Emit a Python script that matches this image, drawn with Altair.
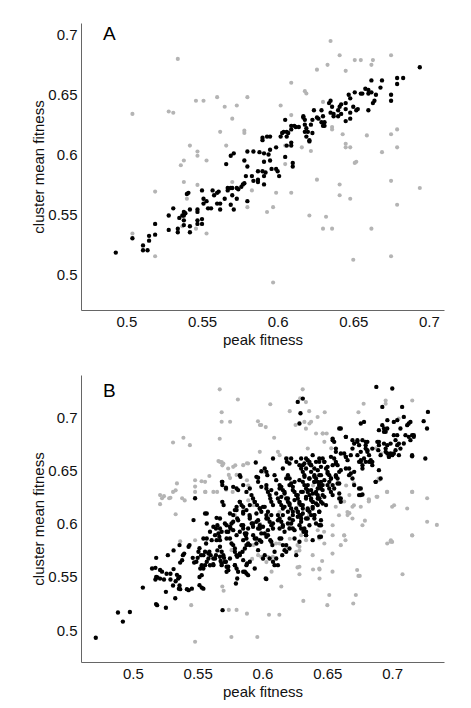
import altair as alt
import pandas as pd

tick_vals = [0.5, 0.55, 0.6, 0.65, 0.7]
x_title = "peak fitness"
y_title = "cluster mean fitness"

# ---------------- panel A ----------------
a_grey = [(0.504,0.634),(0.504,0.534),(0.519,0.569),(0.519,0.515),(0.528,0.636),(0.531,0.635),(0.534,0.680),(0.542,0.6075),(0.538,0.595),(0.536,0.591),(0.538,0.577),(0.540,0.563),(0.537,0.540),(0.546,0.645),(0.551,0.645),(0.547,0.6025),(0.547,0.599),(0.553,0.595),(0.547,0.5746),(0.546,0.538),(0.553,0.534),(0.560,0.648),(0.565,0.640),(0.573,0.641),(0.562,0.619),(0.566,0.6075),(0.570,0.630),(0.578,0.620),(0.578,0.618),(0.580,0.648),(0.570,0.577),(0.583,0.570),(0.580,0.556),(0.593,0.552),(0.597,0.556),(0.597,0.493),(0.599,0.568),(0.602,0.641),(0.603,0.618),(0.605,0.6075),(0.605,0.592),(0.609,0.633),(0.609,0.660),(0.609,0.568),(0.616,0.606),(0.618,0.653),(0.619,0.651),(0.621,0.549),(0.622,0.603),(0.626,0.671),(0.626,0.579),(0.630,0.644),(0.630,0.538),(0.632,0.548),(0.633,0.675),(0.635,0.695),(0.636,0.623),(0.636,0.621),(0.636,0.538),(0.641,0.683),(0.645,0.670),(0.643,0.617),(0.645,0.609),(0.645,0.606),(0.641,0.575),(0.641,0.566),(0.648,0.606),(0.648,0.563),(0.651,0.679),(0.655,0.679),(0.651,0.593),(0.652,0.594),(0.650,0.512),(0.659,0.616),(0.662,0.675),(0.663,0.679),(0.662,0.538),(0.669,0.602),(0.675,0.683),(0.675,0.617),(0.675,0.578),(0.675,0.515),(0.679,0.621),(0.679,0.606),(0.679,0.558),(0.694,0.572)]

a_black = [(0.493,0.518),(0.504,0.530),(0.511,0.524),(0.511,0.520),(0.514,0.520),(0.515,0.532),(0.515,0.528),(0.519,0.542),(0.519,0.533),(0.528,0.549),(0.528,0.537),(0.531,0.555),(0.534,0.538),(0.534,0.535),(0.535,0.547),(0.537,0.549),(0.538,0.552),(0.538,0.545),(0.538,0.549),(0.539,0.551),(0.538,0.541),(0.540,0.567),(0.541,0.568),(0.542,0.554),(0.542,0.540),(0.542,0.535),(0.547,0.554),(0.547,0.552),(0.547,0.545),(0.547,0.542),(0.550,0.570),(0.551,0.563),(0.551,0.559),(0.550,0.546),(0.550,0.542),(0.553,0.561),(0.554,0.555),(0.556,0.555),(0.557,0.570),(0.558,0.566),(0.560,0.559),(0.560,0.568),(0.561,0.569),(0.562,0.554),(0.562,0.559),(0.565,0.563),(0.566,0.592),(0.567,0.572),(0.567,0.570),(0.569,0.572),(0.570,0.572),(0.570,0.566),(0.569,0.599),(0.571,0.601),(0.569,0.558),(0.571,0.554),(0.573,0.563),(0.573,0.572),(0.574,0.571),(0.576,0.573),(0.577,0.575),(0.578,0.576),(0.578,0.595),(0.580,0.590),(0.580,0.6025),(0.579,0.582),(0.580,0.561),(0.583,0.582),(0.584,0.6025),(0.584,0.578),(0.587,0.577),(0.587,0.579),(0.587,0.586),(0.588,0.602),(0.590,0.612),(0.590,0.614),(0.591,0.594),(0.591,0.601),(0.590,0.586),(0.591,0.582),(0.592,0.585),(0.591,0.575),(0.593,0.615),(0.595,0.615),(0.594,0.600),(0.595,0.604),(0.595,0.595),(0.596,0.588),(0.599,0.588),(0.599,0.606),(0.600,0.586),(0.601,0.582),(0.602,0.615),(0.603,0.618),(0.604,0.619),(0.606,0.619),(0.605,0.629),(0.606,0.615),(0.606,0.6075),(0.605,0.598),(0.607,0.618),(0.609,0.624),(0.609,0.621),(0.609,0.610),(0.609,0.6075),(0.610,0.593),(0.610,0.590),(0.611,0.624),(0.612,0.623),(0.614,0.623),(0.617,0.631),(0.617,0.632),(0.618,0.629),(0.618,0.625),(0.619,0.622),(0.618,0.619),(0.619,0.615),(0.620,0.619),(0.621,0.612),(0.621,0.611),(0.622,0.625),(0.623,0.618),(0.623,0.629),(0.624,0.637),(0.626,0.631),(0.627,0.630),(0.629,0.627),(0.630,0.632),(0.630,0.624),(0.629,0.637),(0.631,0.627),(0.631,0.624),(0.634,0.643),(0.635,0.645),(0.636,0.640),(0.635,0.635),(0.637,0.634),(0.637,0.632),(0.640,0.632),(0.640,0.637),(0.641,0.640),(0.642,0.642),(0.642,0.634),(0.645,0.643),(0.645,0.638),(0.645,0.628),(0.647,0.650),(0.648,0.647),(0.648,0.635),(0.648,0.630),(0.650,0.640),(0.651,0.652),(0.652,0.637),(0.653,0.638),(0.655,0.651),(0.656,0.651),(0.658,0.655),(0.660,0.654),(0.660,0.651),(0.662,0.652),(0.660,0.637),(0.663,0.643),(0.664,0.645),(0.662,0.662),(0.665,0.650),(0.668,0.656),(0.669,0.662),(0.675,0.650),(0.675,0.645),(0.679,0.664),(0.679,0.659),(0.683,0.664),(0.694,0.673)]

# ---------------- panel B ----------------
b_grey = [(0.521,0.627),(0.5225,0.624),(0.521,0.6185),(0.524,0.626),(0.528,0.624),(0.529,0.6245),(0.531,0.6765),(0.531,0.630),(0.533,0.6315),(0.534,0.638),(0.533,0.609),(0.538,0.624),(0.540,0.622),(0.539,0.681),(0.544,0.674),(0.5365,0.5835),(0.545,0.5235),(0.548,0.641),(0.548,0.635),(0.548,0.630),(0.548,0.5845),(0.548,0.489),(0.553,0.640),(0.556,0.630),(0.559,0.645),(0.567,0.7265),(0.5685,0.705),(0.5685,0.696),(0.567,0.680),(0.566,0.659),(0.5685,0.658),(0.569,0.655),(0.565,0.630),(0.575,0.696),(0.5735,0.652),(0.574,0.646),(0.575,0.643),(0.572,0.632),(0.577,0.630),(0.569,0.541),(0.570,0.537),(0.574,0.519),(0.580,0.519),(0.576,0.4935),(0.581,0.717),(0.579,0.655),(0.580,0.646),(0.588,0.657),(0.588,0.641),(0.589,0.636),(0.588,0.5155),(0.592,0.567),(0.596,0.4935),(0.5965,0.6965),(0.598,0.693),(0.599,0.693),(0.6025,0.691),(0.606,0.7125),(0.609,0.681),(0.605,0.5145),(0.613,0.5145),(0.607,0.555),(0.6145,0.541),(0.6195,0.6615),(0.621,0.706),(0.6255,0.693),(0.631,0.7265),(0.629,0.718),(0.6335,0.7145),(0.636,0.706),(0.6375,0.696),(0.6335,0.6895),(0.6315,0.5275),(0.627,0.559),(0.6285,0.5525),(0.627,0.580),(0.6285,0.575),(0.639,0.557),(0.644,0.557),(0.644,0.5485),(0.6425,0.7005),(0.6465,0.685),(0.6495,0.685),(0.648,0.705),(0.646,0.565),(0.6515,0.533),(0.650,0.5235),(0.653,0.671),(0.654,0.555),(0.654,0.572),(0.663,0.589),(0.664,0.5845),(0.663,0.621),(0.6655,0.611),(0.667,0.610),(0.6705,0.638),(0.6705,0.6175),(0.672,0.533),(0.670,0.525),(0.673,0.5565),(0.674,0.551),(0.675,0.551),(0.674,0.705),(0.678,0.713),(0.679,0.603),(0.682,0.621),(0.682,0.623),(0.6895,0.6425),(0.688,0.6255),(0.695,0.716),(0.695,0.713),(0.696,0.630),(0.699,0.5845),(0.700,0.583),(0.7015,0.6175),(0.705,0.699),(0.708,0.5525),(0.7155,0.716),(0.7155,0.630),(0.7155,0.589),(0.727,0.624),(0.727,0.602),(0.7345,0.599),(0.589,0.622),(0.593,0.6175),(0.598,0.600),(0.608,0.5955),(0.6105,0.5815),(0.621,0.586),(0.6235,0.608),(0.6285,0.6175),(0.636,0.608),(0.644,0.599),(0.639,0.636),(0.6475,0.5925),(0.6565,0.616),(0.659,0.608),(0.667,0.627),(0.6645,0.636),(0.6005,0.649),(0.603,0.635),(0.613,0.611),(0.618,0.5785),(0.621,0.597),(0.593,0.580),(0.599,0.569),(0.603,0.564),(0.608,0.569),(0.613,0.5815),(0.6875,0.671),(0.6915,0.666),(0.5557,0.6395),(0.5672,0.6583),(0.5698,0.6567),(0.5774,0.6536),(0.5851,0.6552),(0.5889,0.6567),(0.5979,0.6677),(0.6119,0.6677),(0.6132,0.6646),(0.5787,0.6082),(0.5761,0.5752),(0.5966,0.5705),(0.6004,0.5674),(0.6042,0.569),(0.6285,0.5784),(0.626,0.5737),(0.6426,0.594),(0.6438,0.5862),(0.6387,0.5705),(0.6438,0.558),(0.6285,0.5596),(0.5557,0.630),(0.5621,0.630),(0.6413,0.685),(0.6464,0.685),(0.6477,0.6771),(0.6323,0.6959),(0.6362,0.6944),(0.6349,0.6708),(0.6898,0.6411),(0.6962,0.630),(0.7154,0.630),(0.7116,0.6144),(0.700,0.616),(0.6822,0.6223),(0.6886,0.6254),(0.6758,0.616),(0.6694,0.616),(0.6656,0.6082),(0.6694,0.605),(0.6771,0.5987),(0.6541,0.5987),(0.6541,0.5893),(0.663,0.5893),(0.6604,0.5799),(0.6477,0.5815),(0.6988,0.5831),(0.6962,0.5815),(0.7154,0.5893),(0.6336,0.5846),(0.6298,0.5893)]

b_black = [(0.4714,0.4928),(0.4885,0.5166),(0.4923,0.508),(0.4977,0.517),(0.5077,0.540),(0.518,0.568),(0.5148,0.558),(0.5174,0.5586),(0.5179,0.5245),(0.5187,0.5235),(0.518,0.550),(0.519,0.5495),(0.5174,0.5476),(0.521,0.5565),(0.5225,0.555),(0.521,0.5485),(0.524,0.5476),(0.526,0.553),(0.5255,0.536),(0.5255,0.521),(0.527,0.5705),(0.529,0.553),(0.529,0.5476),(0.5314,0.5574),(0.531,0.542),(0.533,0.546),(0.5314,0.575),(0.5327,0.530),(0.534,0.552),(0.535,0.5486),(0.536,0.550),(0.536,0.542),(0.5355,0.539),(0.5365,0.5385),(0.5365,0.5635),(0.538,0.5658),(0.536,0.580),(0.5386,0.5705),(0.5396,0.572),(0.5417,0.5385),(0.543,0.5376),(0.543,0.5784),(0.5437,0.580),(0.5462,0.568),(0.5473,0.5636),(0.5455,0.539),(0.5468,0.6035),(0.548,0.624),(0.549,0.5643),(0.550,0.568),(0.5506,0.5737),(0.5514,0.577),(0.5526,0.5705),(0.5531,0.561),(0.5544,0.558),(0.5514,0.550),(0.552,0.558),(0.5531,0.5517),(0.5514,0.5423),(0.5531,0.540),(0.5544,0.539),(0.5557,0.6097),(0.5557,0.5737),(0.5565,0.5815),(0.557,0.5862),(0.557,0.5643),(0.5583,0.5674),(0.559,0.5737),(0.560,0.5705),(0.5595,0.561),(0.562,0.562),(0.5608,0.5846),(0.5634,0.5674),(0.5641,0.5705),(0.5652,0.575),(0.5646,0.6056),(0.5652,0.5987),(0.5641,0.5956),(0.566,0.591),(0.5667,0.5878),(0.5672,0.5846),(0.5672,0.5784),(0.5685,0.5737),(0.5677,0.565),(0.5685,0.5627),(0.569,0.6395),(0.569,0.6364),(0.569,0.6207),(0.570,0.6176),(0.5698,0.5705),(0.5703,0.568),(0.5718,0.5643),(0.5723,0.5596),(0.5723,0.5549),(0.5736,0.5564),(0.5718,0.6339),(0.5692,0.5188),(0.5723,0.5987),(0.5736,0.5925),(0.5749,0.5862),(0.5754,0.5956),(0.5761,0.6003),(0.5774,0.6082),(0.5787,0.6129),(0.580,0.616),(0.5805,0.605),(0.5774,0.580),(0.5787,0.5768),(0.580,0.5705),(0.5805,0.569),(0.5787,0.561),(0.580,0.558),(0.5812,0.5549),(0.5795,0.5439),(0.5805,0.5486),(0.5812,0.6317),(0.5825,0.6458),(0.583,0.6442),(0.5825,0.6207),(0.5838,0.6176),(0.5851,0.6113),(0.5838,0.5987),(0.5851,0.5956),(0.5864,0.591),(0.5871,0.5893),(0.5876,0.5862),(0.5825,0.5705),(0.5846,0.5737),(0.5864,0.5768),(0.5876,0.580),(0.5889,0.5815),(0.5851,0.5658),(0.5876,0.5611),(0.5881,0.5627),(0.5864,0.5549),(0.5876,0.5533),(0.5889,0.5517),(0.590,0.6082),(0.5902,0.605),(0.5917,0.6003),(0.5927,0.5972),(0.5915,0.627),(0.5927,0.6238),(0.594,0.6207),(0.5953,0.6442),(0.5966,0.6433),(0.5958,0.6176),(0.5979,0.6144),(0.5991,0.6113),(0.6004,0.616),(0.5953,0.6019),(0.5966,0.5956),(0.5979,0.5987),(0.5991,0.591),(0.594,0.5862),(0.5953,0.5815),(0.5966,0.5752),(0.5979,0.5846),(0.6004,0.5674),(0.6017,0.5705),(0.6025,0.5486),(0.603,0.548),(0.6017,0.652),(0.603,0.6489),(0.603,0.6332),(0.6042,0.630),(0.6055,0.627),(0.606,0.6238),(0.6068,0.6207),(0.6081,0.6614),(0.6093,0.6458),(0.6106,0.6411),(0.603,0.6082),(0.6042,0.605),(0.6055,0.6019),(0.6068,0.5987),(0.6081,0.5956),(0.6042,0.5893),(0.606,0.5846),(0.6076,0.580),(0.6093,0.5737),(0.6081,0.5643),(0.6093,0.5611),(0.6106,0.5674),(0.6119,0.6238),(0.6132,0.6207),(0.6145,0.6176),(0.6157,0.6144),(0.6119,0.6082),(0.6132,0.605),(0.6145,0.6019),(0.6157,0.5987),(0.6132,0.6364),(0.6145,0.6348),(0.6157,0.6317),(0.617,0.630),(0.6145,0.5862),(0.6157,0.580),(0.617,0.5752),(0.6152,0.5705),(0.6183,0.6614),(0.6188,0.6583),(0.6183,0.6238),(0.6196,0.6207),(0.6209,0.6176),(0.6221,0.6144),(0.6234,0.6113),(0.6196,0.6458),(0.6209,0.6426),(0.6221,0.6379),(0.6234,0.6348),(0.6209,0.605),(0.6221,0.6003),(0.6234,0.5956),(0.6247,0.630),(0.626,0.627),(0.6272,0.6238),(0.6285,0.6207),(0.6298,0.6176),(0.626,0.6144),(0.6272,0.6113),(0.6285,0.6082),(0.6298,0.605),(0.6272,0.7147),(0.6285,0.6944),(0.6293,0.704),(0.6311,0.7178),(0.6298,0.652),(0.6311,0.6489),(0.6324,0.6442),(0.6298,0.5956),(0.6316,0.5925),(0.6336,0.5893),(0.6336,0.6332),(0.6349,0.630),(0.6362,0.627),(0.6375,0.6238),(0.6387,0.6207),(0.6349,0.6144),(0.6362,0.6113),(0.6375,0.6082),(0.640,0.605),(0.6362,0.6583),(0.6375,0.6552),(0.640,0.6458),(0.6413,0.6426),(0.6426,0.6395),(0.6438,0.6364),(0.6451,0.6332),(0.6413,0.630),(0.6426,0.627),(0.6438,0.6238),(0.6451,0.6207),(0.6438,0.5987),(0.6451,0.5878),(0.6464,0.6614),(0.6477,0.6583),(0.649,0.652),(0.6502,0.6489),(0.6515,0.6458),(0.6528,0.6426),(0.6502,0.6364),(0.6515,0.6332),(0.6528,0.630),(0.6541,0.627),(0.6541,0.6787),(0.6566,0.6708),(0.6553,0.6614),(0.6566,0.6583),(0.6579,0.6552),(0.6566,0.6458),(0.6579,0.6426),(0.6592,0.6379),(0.6592,0.6285),(0.6604,0.6238),(0.6592,0.6897),(0.663,0.6661),(0.6643,0.663),(0.6656,0.6599),(0.6643,0.6818),(0.6668,0.652),(0.6681,0.6473),(0.6694,0.6426),(0.6707,0.6364),(0.6694,0.6708),(0.6707,0.6756),(0.6732,0.6787),(0.6745,0.674),(0.6758,0.6677),(0.6758,0.6583),(0.6771,0.6552),(0.6783,0.6614),(0.6745,0.6332),(0.6758,0.627),(0.6771,0.6276),(0.6783,0.6959),(0.6796,0.6771),(0.6809,0.6693),(0.6822,0.6646),(0.6822,0.6583),(0.6835,0.6599),(0.6847,0.6583),(0.6873,0.6395),(0.6878,0.7288),(0.6886,0.6771),(0.6898,0.674),(0.6893,0.6693),(0.6924,0.6928),(0.6937,0.6897),(0.695,0.6865),(0.6924,0.71),(0.695,0.6708),(0.6963,0.6661),(0.6975,0.663),(0.6988,0.6661),(0.7001,0.6646),(0.6963,0.6975),(0.7001,0.7273),(0.7013,0.6834),(0.7026,0.6787),(0.7039,0.674),(0.7039,0.6975),(0.7064,0.6897),(0.7077,0.71),(0.709,0.7006),(0.7064,0.6708),(0.709,0.6756),(0.7116,0.6928),(0.7141,0.6959),(0.7128,0.6818),(0.7154,0.6834),(0.7167,0.6818),(0.7154,0.6636),(0.7243,0.6966),(0.7276,0.7053),(0.7269,0.6897),(0.7256,0.6614),
(0.5948,0.6577),(0.5991,0.6495),(0.6037,0.6458),(0.6157,0.652),(0.6208,0.6567),(0.6221,0.6614),(0.626,0.6583),(0.6285,0.6552),(0.6336,0.6614),(0.6362,0.6567),(0.640,0.652),(0.6438,0.6583),(0.5687,0.6395),(0.5718,0.6332),(0.5774,0.6348),(0.580,0.6332),(0.5851,0.6364),(0.5876,0.630),(0.5902,0.6332),(0.5966,0.6395),(0.5991,0.6348),(0.603,0.6364),(0.6068,0.6317),(0.6106,0.6285),(0.6145,0.6254),(0.6183,0.6426),(0.6208,0.6364),(0.6247,0.6395),(0.6285,0.6411),(0.6323,0.6364),(0.6362,0.6426),(0.640,0.6395),(0.6438,0.6458),(0.6464,0.6364),(0.5825,0.6207),(0.5851,0.616),(0.5876,0.6129),(0.5902,0.6176),(0.594,0.6207),(0.5979,0.6144),(0.6017,0.616),(0.6042,0.6113),(0.6081,0.6176),(0.6132,0.6207),(0.617,0.616),(0.6208,0.6191),(0.6247,0.6223),(0.6285,0.6191),(0.6336,0.6238),(0.6387,0.6207),(0.6426,0.6238),(0.6464,0.627),(0.5672,0.605),(0.571,0.6003),(0.5749,0.5972),(0.5774,0.6019),(0.5812,0.6034),(0.5851,0.5987),(0.5889,0.5956),(0.5927,0.6003),(0.5966,0.6034),(0.6004,0.5972),(0.6042,0.594),(0.6081,0.6003),(0.6119,0.6034),(0.6157,0.5972),(0.6196,0.6003),(0.6234,0.6034),(0.6272,0.6066),(0.6311,0.6097),(0.6349,0.605),(0.640,0.6082),(0.6438,0.6113),(0.557,0.6097),(0.5544,0.5862),(0.5595,0.5925),(0.5634,0.5893),(0.5646,0.5846),(0.5685,0.5925),(0.5723,0.5862),(0.5761,0.5815),(0.580,0.5893),(0.5851,0.5846),(0.5902,0.580),(0.5953,0.5862),(0.5991,0.5831),(0.603,0.5878),(0.6068,0.5831),(0.6132,0.5862),(0.6183,0.580),(0.6208,0.5768),(0.6247,0.5862),(0.6285,0.5831),(0.6336,0.5893),(0.5544,0.5705),(0.5583,0.5721),(0.5621,0.5674),(0.5672,0.569),(0.571,0.5643),(0.5749,0.5674),(0.5787,0.5737),(0.5825,0.5721),(0.5557,0.5611),(0.5621,0.5611),(0.5685,0.5611),(0.5736,0.5596),(0.5787,0.5611),(0.5851,0.5549),(0.5902,0.5643),(0.594,0.558),(0.6055,0.5674),(0.6119,0.5611),(0.6183,0.5737),(0.626,0.5705),
(0.6758,0.6944),(0.6604,0.6897),(0.6898,0.6881),(0.6937,0.6865),(0.6962,0.6897),(0.7013,0.6959),(0.7128,0.6944),(0.6541,0.6802),(0.6553,0.6771),(0.6643,0.6818),(0.6694,0.6787),(0.6732,0.6771),(0.6771,0.6787),(0.6796,0.674),(0.6809,0.6771),(0.6898,0.6771),(0.6937,0.6755),(0.6962,0.674),(0.6988,0.6755),(0.7039,0.6834),(0.7052,0.6755),(0.7103,0.6834),(0.7141,0.6787),(0.7167,0.6834),(0.6796,0.6708),(0.6809,0.6677),(0.6847,0.6708),(0.6911,0.6646),(0.695,0.6677),(0.6975,0.663),(0.7013,0.6661),(0.7026,0.6693),(0.7052,0.6646),(0.7154,0.6646),(0.6528,0.663),(0.6566,0.6677),(0.6604,0.6661),(0.6643,0.663),(0.6681,0.6646),(0.6732,0.6646),(0.6758,0.6599),(0.6796,0.6583),(0.6834,0.6583),(0.6847,0.6552),(0.6387,0.6646),(0.6438,0.6614),(0.6477,0.6583),(0.6502,0.6536),(0.6541,0.6552),(0.6566,0.6567),(0.6604,0.6505),(0.6643,0.652),(0.6668,0.6458),(0.6707,0.6489),(0.6745,0.6583),(0.6771,0.652),(0.6898,0.6505),(0.6873,0.6395),(0.6911,0.6426),(0.6758,0.6332),(0.6745,0.627),(0.6592,0.6238),(0.6604,0.6207),(0.6311,0.6552),(0.6336,0.652),(0.6375,0.6489),(0.640,0.6442),(0.6426,0.6505),(0.6451,0.6458),(0.6477,0.6411),(0.6515,0.6395),(0.6541,0.6364),(0.6566,0.6442),(0.6592,0.6489),(0.6311,0.6395),(0.6349,0.6364),(0.6375,0.6317),(0.6413,0.6285),(0.6438,0.6238),(0.6477,0.6254),(0.649,0.6176),(0.6387,0.6144),(0.6438,0.6113),(0.6336,0.605),(0.6298,0.6019),(0.6451,0.5987),(0.6438,0.5878),(0.6387,0.5846),(0.6336,0.5925),
(0.6132,0.6332),(0.6170,0.6285),(0.6196,0.6238),(0.6234,0.6317),(0.6272,0.6270),(0.6311,0.6301),(0.6349,0.6317),(0.6387,0.6285),(0.6426,0.6332),(0.6451,0.6395),(0.6157,0.6082),(0.6196,0.6113),(0.6234,0.6082),(0.6272,0.6113),(0.6311,0.6144),(0.6349,0.6129),(0.6387,0.6160),(0.6426,0.6176),(0.6464,0.6191),(0.6132,0.5956),(0.6170,0.5925),(0.6208,0.5956),(0.6247,0.5940),(0.6285,0.5987),(0.6323,0.5956),(0.6362,0.5987),(0.6413,0.6003),(0.6451,0.6034),(0.6030,0.6050),(0.6068,0.6082),(0.5979,0.5956),(0.6017,0.5909),(0.5928,0.5893),(0.5876,0.5909),(0.5825,0.5925),(0.5774,0.5940),(0.5723,0.5925),(0.5672,0.5956),(0.5621,0.5972),(0.5570,0.6003),(0.5902,0.6066),(0.5953,0.6097),(0.5851,0.6097),(0.5800,0.6129),(0.5749,0.6097),
(0.6298,0.6614),(0.6323,0.6567),(0.6349,0.6599),(0.6375,0.6552),(0.6413,0.6583),(0.6451,0.6536),(0.6323,0.6458),(0.6362,0.6426),(0.6400,0.6395),(0.6438,0.6364),(0.6464,0.6317),(0.6298,0.6301),(0.6336,0.6254),(0.6375,0.6223),(0.6413,0.6191),(0.6311,0.6176),(0.6349,0.6129),(0.6400,0.6082),(0.6298,0.6082),(0.6502,0.6473),(0.6528,0.6426),(0.6553,0.6332),(0.6579,0.6379)]


def frame(pts):
    return pd.DataFrame({"x": [p[0] for p in pts], "y": [p[1] for p in pts]})


GREY = "#b4b4b4"
FONT = "Liberation Sans"
PLOT_W, PLOT_H = 363, 287


def panel(grey, black, label, xdom, ydom, label_y):
    xs = alt.Scale(domain=xdom, nice=False, zero=False)
    ys = alt.Scale(domain=ydom, nice=False, zero=False)
    xax = alt.Axis(values=tick_vals, format=".2~f", title=x_title, grid=False)
    yax = alt.Axis(values=tick_vals, format=".2~f", title=y_title, grid=False,
                   titleX=-38, titleY=PLOT_H / 2, titleAlign="center",
                   titleBaseline="alphabetic", titleAngle=270)
    g = alt.Chart(frame(grey)).mark_circle(size=17, color=GREY, opacity=1).encode(
        x=alt.X("x:Q", scale=xs, axis=xax), y=alt.Y("y:Q", scale=ys, axis=yax))
    b = alt.Chart(frame(black)).mark_circle(size=19, color="#000000", opacity=1).encode(
        x=alt.X("x:Q", scale=xs, axis=xax), y=alt.Y("y:Q", scale=ys, axis=yax))
    t = alt.Chart(pd.DataFrame({"t": [label]})).mark_text(
        align="left", baseline="alphabetic", fontSize=19, font=FONT, color="#000000").encode(
        x=alt.value(22), y=alt.value(label_y), text="t:N")
    return alt.layer(g, b, t).properties(width=PLOT_W, height=PLOT_H)


pa = panel(a_grey, a_black, "A", [0.47, 0.71], [0.47, 0.71], 17)
pb = panel(b_grey, b_black, "B", [0.46, 0.74], [0.47, 0.74], 22)

chart = alt.vconcat(pa, pb, spacing=28).properties(
    padding={"top": 15, "left": 23, "right": 5, "bottom": 5}
).configure_view(stroke=None).configure_axis(
    labelFont=FONT, titleFont=FONT, labelFontSize=15, titleFontSize=15,
    labelColor="#111111", titleColor="#111111", titleFontWeight="normal",
    domainColor="#666666", domainWidth=1, tickSize=0, labelPadding=4, titlePadding=4,
).configure_axisX(titlePadding=3)

chart.save("out.html", embed_options={"renderer": "svg", "actions": False})
